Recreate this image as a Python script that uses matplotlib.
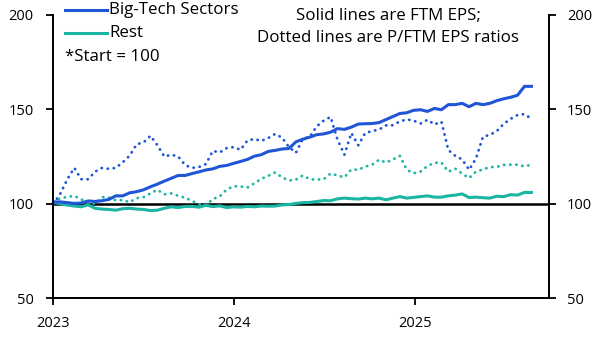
import matplotlib
matplotlib.use("Agg")
import matplotlib.pyplot as plt
import matplotlib.dates as mdates
import pandas as pd

plt.rcParams['font.family'] = ['Open Sans', 'DejaVu Sans']

dates = pd.date_range("2023-01-02", periods=70, freq="14D")

bigtech_eps = [101, 101, 100.6, 100.2, 100.4, 101.5, 101.2, 101.6, 102.3, 104.2,
               104.2, 105.8, 106.4, 107.4, 109, 110.4, 112, 113.5, 115, 115,
               116, 116.9, 117.9, 118.5, 119.8, 120.3, 121.4, 122.4, 123.5, 125.2,
               126, 127.7, 128.3, 129, 129.3, 132.8, 134.2, 135.3, 136.6, 137,
               137.9, 139.8, 139.4, 140.6, 142.2, 142.4, 142.5, 143, 144.6, 146.2,
               147.8, 148.2, 149.5, 149.8, 148.9, 150.5, 149.8, 152.5, 152.5, 153.2,
               151.4, 153.2, 152.5, 153.2, 154.6, 155.6, 156.4, 157.5, 162.2, 162.2]

bigtech_pe = [100, 105.5, 113, 119, 113, 113, 117, 119, 118.5, 119,
              122, 125.5, 131.5, 132.5, 136, 131, 125, 126, 125, 120.5,
              119, 119.5, 121, 128, 127.2, 129.5, 130, 128.6, 133.5, 134.3,
              133.3, 134.8, 137, 135, 130, 127, 134.4, 135.5, 141, 144,
              146, 134, 126, 137.5, 131, 137.5, 138.5, 139.3, 141.5, 141.6,
              143.6, 144.7, 144, 142.5, 144.5, 142, 143.5, 128.5, 125.4, 123.5,
              118, 124, 135.5, 136.5, 138.5, 142.3, 145, 147, 147.5, 145]

rest_eps = [100.8, 100, 99.3, 98.8, 98.4, 99.4, 97.6, 97.2, 97, 96.6,
            97.4, 97.6, 97.2, 97, 96.4, 96.6, 97.6, 98.4, 98, 98.6,
            98.6, 98.2, 99.2, 98.5, 98.9, 98, 98.4, 98.2, 98.6, 98.4,
            98.8, 98.7, 98.8, 99.4, 99.6, 100.2, 100.6, 100.7, 101.2, 101.7,
            101.6, 102.6, 103, 102.7, 102.5, 103, 102.6, 103, 102.1, 103,
            103.8, 103, 103.4, 103.8, 104.2, 103.5, 103.5, 104.2, 104.6, 105.2,
            103.3, 103.5, 103.2, 103, 104, 103.8, 104.8, 104.6, 106, 106]

rest_pe = [101, 103, 103.6, 104.2, 102.3, 100.6, 100, 103.5, 103.3, 101.8,
           102, 100.8, 103, 103.5, 105.5, 107.4, 105, 105.5, 104.2, 103.2,
           101.5, 99.8, 99.2, 102.5, 103.9, 107.5, 109.3, 109.2, 108.6, 110.8,
           113.2, 114.8, 116.6, 114, 112.3, 112.8, 115, 113, 112.8, 113,
           116, 115, 114, 118.2, 118, 119.7, 120.7, 123.3, 121.8, 123.5,
           125.4, 118, 116.2, 117.1, 120, 121.7, 121.9, 117, 118.6, 116,
           113.6, 117, 118.2, 119.4, 119.5, 120.6, 120.7, 120.7, 119.8, 120.7]

series_labels = ["Big-Tech Sectors", "Rest"]
yticks = [50, 100, 150, 200]
xtick_dates = pd.to_datetime(["2023-01-01", "2024-01-01", "2025-01-01"])
xtick_labels = ["2023", "2024", "2025"]

BLUE = "#1F55D6"
TEAL = "#1BB5A3"

fig = plt.figure(figsize=(6.06, 3.40), dpi=100)
ax = fig.add_axes([0.0875, 0.123, 0.818, 0.833])

ax.axhline(100, color="black", lw=1.8, zorder=1)

dot = (0, (0.1, 2.1))
ax.plot(dates, bigtech_pe, color=BLUE, lw=2.0, linestyle=dot, dash_capstyle="round", zorder=3)
ax.plot(dates, rest_pe, color=TEAL, lw=2.0, linestyle=dot, dash_capstyle="round", zorder=3)
ax.plot(dates, rest_eps, color=TEAL, lw=2.2, zorder=4, solid_joinstyle="round")
ax.plot(dates, bigtech_eps, color=BLUE, lw=2.2, zorder=4, solid_joinstyle="round")

ax.set_xlim(pd.Timestamp("2023-01-01"), pd.Timestamp("2025-09-29"))
ax.set_ylim(50, 200)
ax.set_yticks(yticks)
ax.set_xticks(xtick_dates)
ax.set_xticklabels(xtick_labels)

for s in ["left", "right", "bottom"]:
    ax.spines[s].set_linewidth(1.3)
ax.spines["top"].set_visible(False)
ax.tick_params(axis="both", direction="out", length=5, width=1.3, labelsize=10.5)
ax.tick_params(axis="x", pad=8)
ax.tick_params(axis="y", pad=9)

ax2 = ax.twinx()
ax2.set_ylim(50, 200)
ax2.set_yticks(yticks)
ax2.spines["top"].set_visible(False)
for s in ["left", "right", "bottom"]:
    ax2.spines[s].set_linewidth(1.3)
ax2.tick_params(axis="y", direction="out", length=5, width=1.3, labelsize=10.5, pad=8)

# legend-like labels
trans = fig.transFigure
W, H = 606, 340
for i, (lab, col) in enumerate(zip(series_labels, [BLUE, TEAL])):
    yy = 1 - (10 + 23 * i) / H
    fig.add_artist(plt.Line2D([65 / W, 107 / W], [yy, yy], color=col, lw=2.2, transform=trans))
    fig.text(109 / W, yy, lab, ha="left", va="center", fontsize=12.2)
fig.text(65 / W, 1 - 57 / H, "*Start = 100", ha="left", va="center", fontsize=12.2)

fig.text(388 / W, 1 - 16 / H, "Solid lines are FTM EPS;", ha="center", va="center", fontsize=12.2)
fig.text(388 / W, 1 - 38 / H, "Dotted lines are P/FTM EPS ratios", ha="center", va="center", fontsize=12.2)

fig.savefig("out.png", dpi=100)
